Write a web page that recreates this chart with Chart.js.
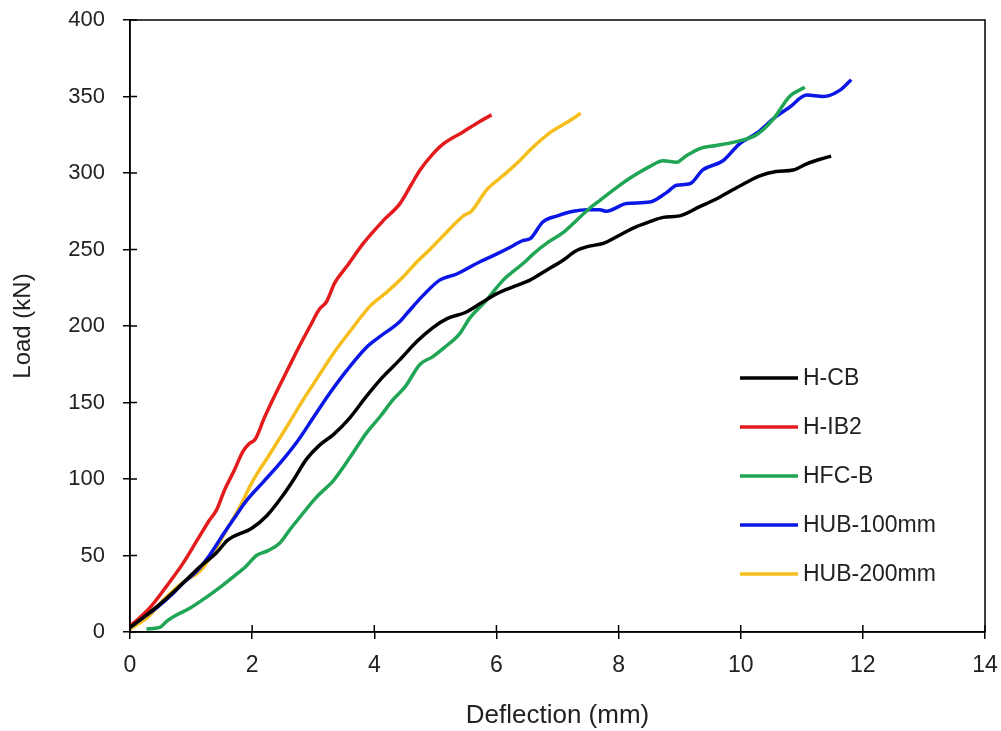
<!DOCTYPE html>
<html>
<head>
<meta charset="utf-8">
<script src="https://cdn.jsdelivr.net/npm/chart.js@4.4.1/dist/chart.umd.min.js"></script>
<style>
  body { margin: 0; background: #fff; }
  #wrap { width: 1001px; height: 731px; }
</style>
</head>
<body>
<div id="wrap"><canvas id="load_chart"></canvas></div>
<script>
// deflection (mm) vs load (kN)
const hcbX = [0, 0.3, 0.6, 0.87, 1.1, 1.42, 1.6, 2.0, 2.24, 2.5, 2.67, 2.89, 3.1, 3.33, 3.6, 3.87, 4.1, 4.42, 4.7, 4.96, 5.2, 5.5, 5.75, 6.0, 6.3, 6.55, 6.8, 7.09, 7.3, 7.5, 7.75, 8.0, 8.24, 8.5, 8.73, 9.0, 9.33, 9.6, 9.87, 10.1, 10.3, 10.58, 10.86, 11.08, 11.3, 11.48];
const hcbY = [3, 12, 22, 32, 41, 52, 60, 68, 76, 89, 99, 113, 122, 129, 140, 154, 165, 178, 190, 199, 205, 209, 215, 221, 226, 230, 236, 243, 249, 252, 254, 259, 264, 268, 271, 272, 278, 283, 289, 294, 298, 301, 302, 306, 309, 311];

const hib2X = [0, 0.15, 0.33, 0.6, 0.87, 1.1, 1.3, 1.42, 1.55, 1.7, 1.85, 1.95, 2.05, 2.2, 2.4, 2.6, 2.75, 2.95, 3.1, 3.22, 3.35, 3.55, 3.82, 4.15, 4.42, 4.6, 4.75, 4.95, 5.13, 5.46, 5.7, 5.92];
const hib2Y = [4, 9, 16, 30, 45, 60, 73, 80, 93, 105, 118, 123, 126, 140, 157, 173, 185, 200, 211, 216, 228, 239, 254, 269, 280, 292, 302, 312, 319, 327, 333, 338];

const hfcbX = [0.27, 0.49, 0.6, 0.71, 1.0, 1.26, 1.5, 1.69, 1.9, 2.07, 2.25, 2.45, 2.62, 2.78, 3.05, 3.33, 3.6, 3.87, 4.1, 4.31, 4.5, 4.75, 4.96, 5.15, 5.4, 5.56, 5.84, 6.11, 6.44, 6.6, 6.82, 7.09, 7.31, 7.5, 7.69, 7.95, 8.24, 8.5, 8.73, 8.95, 9.1, 9.33, 9.6, 9.87, 10.26, 10.53, 10.8, 11.05];
const hfcbY = [2, 3, 7, 10, 16, 23, 30, 36, 43, 50, 53, 58, 67, 75, 88, 99, 114, 130, 141, 152, 160, 175, 180, 186, 195, 205, 217, 230, 241, 247, 254, 261, 269, 276, 282, 290, 298, 304, 308, 307, 311, 316, 318, 320, 325, 335, 350, 356];

const hub100X = [0, 0.2, 0.44, 0.7, 0.87, 1.1, 1.3, 1.53, 1.7, 1.91, 2.18, 2.45, 2.73, 3.0, 3.27, 3.55, 3.87, 4.09, 4.42, 4.53, 4.8, 5.07, 5.35, 5.73, 6.0, 6.25, 6.44, 6.55, 6.76, 7.0, 7.26, 7.5, 7.69, 7.8, 8.13, 8.51, 8.78, 8.95, 9.17, 9.38, 9.71, 9.98, 10.26, 10.58, 10.8, 11.08, 11.35, 11.62, 11.81];
const hub100Y = [3, 9, 16, 25, 32, 40, 50, 64, 74, 86, 98, 110, 124, 140, 156, 171, 186, 193, 203, 208, 220, 230, 234, 242, 247, 252, 256, 257, 268, 272, 275, 276, 276, 275, 280, 281, 287, 292, 293, 302, 308, 319, 326, 337, 343, 351, 350, 354, 361];

const hub200X = [0, 0.3, 0.55, 0.85, 1.15, 1.4, 1.6, 1.8, 2.0, 2.3, 2.55, 2.84, 3.1, 3.33, 3.65, 3.93, 4.2, 4.47, 4.7, 4.91, 5.2, 5.46, 5.59, 5.84, 6.1, 6.38, 6.55, 6.9, 7.15, 7.38];
const hub200Y = [2, 10, 21, 32, 40, 54, 68, 82, 98, 117, 133, 152, 168, 182, 199, 213, 222, 232, 242, 250, 262, 272, 275, 289, 298, 308, 315, 327, 333, 339];

const labels = ['H-CB', 'H-IB2', 'HFC-B', 'HUB-100mm', 'HUB-200mm'];
const colors = ['#000000', '#e41b1c', '#1fa553', '#0a17e6', '#f6be1c'];

const xTicks = [0, 2, 4, 6, 8, 10, 12, 14];
const yTicks = [0, 50, 100, 150, 200, 250, 300, 350, 400];

const seriesX = [hcbX, hib2X, hfcbX, hub100X, hub200X];
const seriesY = [hcbY, hib2Y, hfcbY, hub100Y, hub200Y];

const FONT = "'Liberation Sans', Arial, sans-serif";

const datasets = labels.map((name, i) => ({
    label: name,
    data: seriesX[i].map((x, j) => ({ x: x, y: seriesY[i][j] })),
    borderColor: colors[i],
    backgroundColor: colors[i],
    borderWidth: 3.5,
    pointRadius: 0,
    cubicInterpolationMode: 'monotone',
    fill: false
}));

// box round the plot, ticks that cross the axis, legend inside the plot
const framePlugin = {
    id: 'frame',
    afterDraw(chart) {
        const ctx = chart.ctx;
        const a = chart.chartArea;
        const xs = chart.scales.x, ys = chart.scales.y;
        ctx.save();
        ctx.strokeStyle = '#000';
        ctx.lineWidth = 1.5;
        ctx.strokeRect(a.left, a.top, a.right - a.left, a.bottom - a.top);
        ctx.beginPath();
        xTicks.forEach(v => {
            const px = xs.getPixelForValue(v);
            ctx.moveTo(px, a.bottom);
            ctx.lineTo(px, a.bottom - 7);
        });
        yTicks.forEach(v => {
            const py = ys.getPixelForValue(v);
            ctx.moveTo(a.left, py);
            ctx.lineTo(a.left + 7, py);
        });
        ctx.stroke();

        // legend
        ctx.font = '23px ' + FONT;
        ctx.textBaseline = 'middle';
        ctx.textAlign = 'left';
        chart.data.datasets.forEach((ds, i) => {
            const y = 378 + i * 49;
            ctx.strokeStyle = ds.borderColor;
            ctx.lineWidth = 3.5;
            ctx.beginPath();
            ctx.moveTo(740, y);
            ctx.lineTo(798, y);
            ctx.stroke();
            ctx.fillStyle = '#222';
            ctx.fillText(ds.label, 803, y + 1);
        });
        ctx.restore();
    }
};

const config = {
    type: 'line',
    data: { datasets: datasets },
    options: {
        responsive: true,
        maintainAspectRatio: false,
        animation: false,
        layout: {
            padding: { top: 20, right: 16, left: 0, bottom: 0 }
        },
        plugins: {
            legend: { display: false },
            tooltip: { enabled: false }
        },
        scales: {
            x: {
                type: 'linear',
                min: 0,
                max: 14,
                afterBuildTicks: s => { s.ticks = xTicks.map(v => ({ value: v })); },
                afterFit: s => { s.height = 99; s.paddingLeft = 0; s.paddingRight = 0; },
                grid: { drawOnChartArea: false, color: '#000', lineWidth: 1.5, tickLength: 7 },
                border: { color: '#000', width: 1.5 },
                ticks: { color: '#222', font: { family: FONT, size: 23 }, padding: 13, maxRotation: 0 },
                title: {
                    display: true,
                    text: 'Deflection (mm)',
                    color: '#222',
                    font: { family: FONT, size: 26 },
                    padding: { top: 0, bottom: 0 }
                }
            },
            y: {
                type: 'linear',
                min: 0,
                max: 400,
                afterBuildTicks: s => { s.ticks = yTicks.map(v => ({ value: v })); },
                afterFit: s => { s.width = 130; s.paddingTop = 0; s.paddingBottom = 0; },
                grid: { drawOnChartArea: false, color: '#000', lineWidth: 1.5, tickLength: 7 },
                border: { color: '#000', width: 1.5 },
                ticks: { color: '#222', font: { family: FONT, size: 22 }, padding: 18 },
                title: {
                    display: true,
                    text: 'Load (kN)',
                    color: '#222',
                    font: { family: FONT, size: 24 },
                    padding: { top: 9, bottom: 0 }
                }
            }
        }
    },
    plugins: [framePlugin]
};

const load_chart = new Chart(document.getElementById('load_chart'), config);
</script>
</body>
</html>
